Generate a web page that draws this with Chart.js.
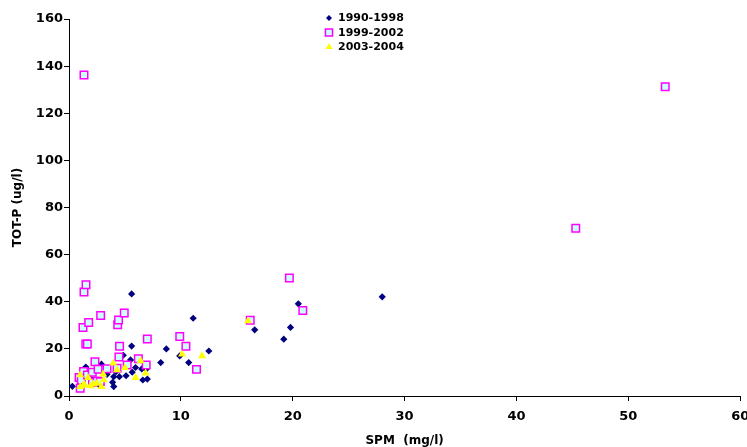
<!DOCTYPE html>
<html>
<head>
<meta charset="utf-8">
<script src="https://cdn.jsdelivr.net/npm/chart.js@4.4.1/dist/chart.umd.min.js"></script>
<style>
  html, body { margin: 0; padding: 0; background: #fff; }
  #wrap { width: 747px; height: 447px; }
</style>
</head>
<body>
<div id="wrap"><canvas id="spmChart" width="747" height="447"></canvas></div>
<script>
// Series names
const seriesNames = ['1990-1998', '1999-2002', '2003-2004'];

// 1990-1998 : SPM (mg/l) / TOT-P (ug/l)
const spm9098 = [0.3, 1.5, 1.9, 2.2, 2.7, 2.9, 3.4, 3.9, 4.0, 4.0, 4.2, 4.5, 4.85, 5.1, 5.5, 5.6, 5.6, 5.65, 5.95, 6.5, 6.6, 6.9, 7.0, 8.2, 8.7, 9.9, 10.7, 11.1, 12.5, 16.6, 19.2, 19.8, 20.5, 28.0];
const totp9098 = [4.1, 12.3, 7.5, 6.1, 4.7, 13.5, 9.2, 5.8, 4.0, 8.2, 10.3, 8.2, 17.3, 8.6, 15.3, 21.2, 43.3, 10.1, 12.1, 11.5, 6.8, 11.4, 7.2, 14.2, 20.0, 17.0, 14.2, 33.0, 19.1, 28.1, 24.1, 29.1, 39.1, 42.1];

// 1999-2002
const spm9902 = [1.0, 0.9, 1.1, 1.3, 1.25, 1.34, 1.34, 1.5, 1.64, 1.52, 1.76, 1.64, 2.08, 2.1, 2.32, 2.53, 2.6, 2.83, 2.8, 3.4, 4.3, 4.35, 4.43, 4.46, 4.52, 4.94, 5.2, 6.2, 6.9, 7.0, 9.9, 10.45, 11.4, 16.2, 19.7, 20.9, 45.3, 53.3];
const totp9902 = [3.3, 7.8, 6.8, 10.4, 29.1, 44.1, 136.2, 22.1, 22.1, 47.2, 31.2, 8.9, 10.1, 5.7, 14.5, 6.4, 11.4, 34.2, 6.1, 11.6, 11.8, 30.2, 32.3, 16.5, 21.1, 35.2, 13.2, 15.8, 13.2, 24.2, 25.2, 21.1, 11.3, 32.1, 50.1, 36.3, 71.2, 131.2];

// 2003-2004
const spm0304 = [1.0, 1.0, 1.34, 1.4, 1.7, 1.9, 2.2, 2.5, 2.9, 3.1, 3.06, 3.96, 4.3, 5.0, 5.95, 6.4, 6.85, 10.1, 11.9, 16.0];
const totp0304 = [4.0, 8.9, 5.0, 4.5, 7.8, 4.3, 5.0, 5.4, 4.0, 6.8, 9.2, 13.9, 11.1, 12.0, 7.8, 14.9, 9.7, 17.7, 17.0, 31.9];

// Axis ticks
const xTicks = [0, 10, 20, 30, 40, 50, 60];
const yTicks = [0, 20, 40, 60, 80, 100, 120, 140, 160];

function toPoints(xs, ys) {
  return xs.map((x, i) => ({ x: x, y: ys[i] }));
}

const FONT = '"DejaVu Sans", sans-serif';

// legend drawn as a stacked list inside the plot (like the original)
const stackedLegend = {
  id: 'stackedLegend',
  afterDraw(chart) {
    const ctx = chart.ctx;
    ctx.save();
    ctx.font = 'bold 11px ' + FONT;
    ctx.textBaseline = 'middle';
    chart.data.datasets.forEach((ds, i) => {
      const y = 18 + i * 14.5;
      ctx.fillStyle = ds.backgroundColor;
      ctx.strokeStyle = ds.borderColor;
      ctx.lineWidth = ds.borderWidth;
      Chart.helpers.drawPoint(ctx, {
        pointStyle: ds.pointStyle,
        radius: ds.legendRadius,
        rotation: 0,
        borderWidth: ds.borderWidth
      }, 329, y);
      ctx.fillStyle = '#000';
      ctx.fillText(ds.label, 338, y + 0.5);
    });
    ctx.restore();
  }
};

const ctx = document.getElementById('spmChart').getContext('2d');
const spmChart = new Chart(ctx, {
  type: 'scatter',
  data: {
    datasets: [{
      label: seriesNames[0],
      data: toPoints(spm9098, totp9098),
      pointStyle: 'rectRot',
      pointRadius: 3.6,
      legendRadius: 3,
      backgroundColor: '#000080',
      borderColor: '#000080',
      borderWidth: 0,
      order: 3
    }, {
      label: seriesNames[1],
      data: toPoints(spm9902, totp9902),
      pointStyle: 'rect',
      pointRadius: 5.3,
      legendRadius: 5,
      backgroundColor: '#CCFFFF',
      borderColor: '#FF00FF',
      borderWidth: 1.5,
      order: 2
    }, {
      label: seriesNames[2],
      data: toPoints(spm0304, totp0304),
      pointStyle: 'triangle',
      pointRadius: 4.6,
      legendRadius: 4,
      backgroundColor: '#FFFF00',
      borderColor: '#FFFF00',
      borderWidth: 0,
      order: 1
    }]
  },
  options: {
    responsive: false,
    animation: false,
    devicePixelRatio: 1,
    layout: { padding: { left: 0, right: 6, top: 19, bottom: 0 } },
    plugins: {
      legend: { display: false },
      tooltip: { enabled: false }
    },
    scales: {
      x: {
        type: 'linear',
        min: xTicks[0],
        max: xTicks[xTicks.length - 1],
        afterBuildTicks: s => { s.ticks = xTicks.map(v => ({ value: v })); },
        afterFit: s => { s.height = 51; s.paddingLeft = 0; s.paddingRight = 0; },
        grid: { drawOnChartArea: false, drawTicks: true, tickLength: 5, color: '#000' },
        border: { display: true, color: '#000', width: 1 },
        ticks: { color: '#000', padding: 8, maxRotation: 0, font: { family: FONT, size: 13, weight: 'bold' } },
        title: {
          display: true,
          text: 'SPM  (mg/l)',
          color: '#000',
          padding: { top: 0, bottom: 0 },
          font: { family: FONT, size: 12, weight: 'bold', lineHeight: 1 }
        }
      },
      y: {
        type: 'linear',
        min: yTicks[0],
        max: yTicks[yTicks.length - 1],
        afterBuildTicks: s => { s.ticks = yTicks.map(v => ({ value: v })); },
        afterFit: s => { s.width = 69; },
        grid: { drawOnChartArea: false, drawTicks: true, tickLength: 5, color: '#000' },
        border: { display: true, color: '#000', width: 1 },
        ticks: { color: '#000', padding: 1, font: { family: FONT, size: 13, weight: 'bold' } },
        title: {
          display: true,
          text: 'TOT-P (ug/l)',
          color: '#000',
          padding: { top: 11, bottom: 0 },
          font: { family: FONT, size: 12, weight: 'bold', lineHeight: 1.2 }
        }
      }
    }
  },
  plugins: [stackedLegend]
});
</script>
</body>
</html>
